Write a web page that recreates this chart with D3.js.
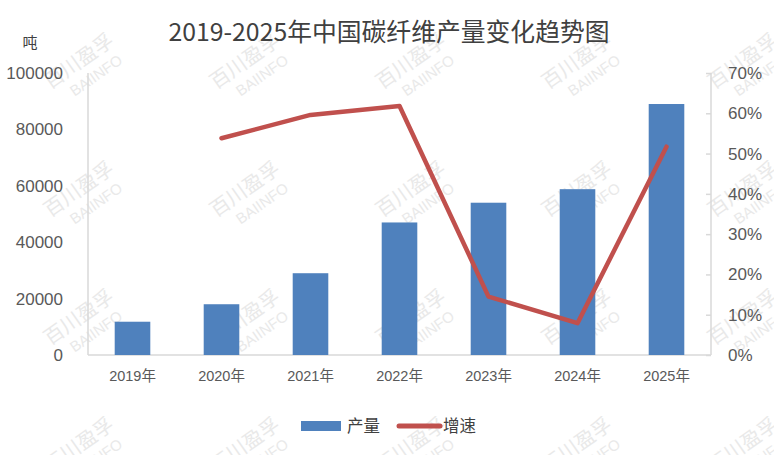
<!DOCTYPE html>
<html><head><meta charset="utf-8">
<script src="https://cdn.jsdelivr.net/npm/d3@7/dist/d3.min.js"></script>
<style>body{margin:0;background:#fff}svg{display:block}</style>
</head><body>
<svg id="c" width="774" height="455"></svg>
<script>
const categories = ["2019年","2020年","2021年","2022年","2023年","2024年","2025年"];
const output = [11800, 18000, 29000, 47000, 54000, 58800, 89000];
const growth = [null, 0.538, 0.596, 0.618, 0.145, 0.079, 0.517];
const leftTicks = [0, 20000, 40000, 60000, 80000, 100000];
const rightTicks = [0, 0.1, 0.2, 0.3, 0.4, 0.5, 0.6, 0.7];
const title = "2019-2025年中国碳纤维产量变化趋势图";
const unitLabel = "吨";
const legendNames = ["产量", "增速"];
const watermark = ["百川盈孚", "BAIINFO"];

const svg = d3.select("#c");
const M = {l: 88, r: 711, t: 73, b: 355};
const latin = "'Liberation Sans', Arial, 'Noto Sans CJK SC', sans-serif";
const cjk = "'Noto Sans CJK SC', sans-serif";

// watermark layer
const wm = svg.append("g");
for (let r = 0; r < 4; r++) {
  for (let c = 0; c < 5; c++) {
    const cx = 85 + 166 * c, cy = 70 + 128 * r;
    const g = wm.append("g").attr("transform", `translate(${cx},${cy}) rotate(-35)`);
    g.append("text").attr("x", 0).attr("y", -4).attr("text-anchor", "middle")
      .attr("font-family", cjk).attr("font-size", 20).attr("fill", "#e9e9e9").text(watermark[0]);
    g.append("text").attr("x", 6).attr("y", 16).attr("text-anchor", "middle")
      .attr("font-family", latin).attr("font-size", 15).attr("fill", "#e9e9e9").text(watermark[1]);
  }
}

const x = d3.scaleBand().domain(categories).range([M.l, M.r]).paddingInner(0.6).paddingOuter(0.3);
const yL = d3.scaleLinear().domain([0, 100000]).range([M.b, M.t]);
const yR = d3.scaleLinear().domain([0, 0.7]).range([M.b, M.t]);

// axes lines
const axisColor = "#d9d9d9";
svg.append("line").attr("x1", M.l).attr("x2", M.l).attr("y1", M.t).attr("y2", M.b)
  .attr("stroke", axisColor).attr("stroke-width", 1.5);
svg.append("line").attr("x1", M.r).attr("x2", M.r).attr("y1", M.t).attr("y2", M.b)
  .attr("stroke", axisColor).attr("stroke-width", 1.5);
svg.append("line").attr("x1", M.l).attr("x2", M.r).attr("y1", M.b).attr("y2", M.b)
  .attr("stroke", axisColor).attr("stroke-width", 1.5);

// left axis labels
const gl = svg.append("g").attr("transform", `translate(${M.l},0)`)
  .call(d3.axisLeft(yL).tickValues(leftTicks).tickSize(0).tickPadding(25).tickFormat(d3.format("d")));
gl.select(".domain").remove();
gl.selectAll("text").attr("font-family", latin).attr("font-size", 17).attr("fill", "#595959");

// right axis
const gr = svg.append("g").attr("transform", `translate(${M.r},0)`)
  .call(d3.axisRight(yR).tickValues(rightTicks).tickSize(0).tickPadding(17).tickFormat(d3.format(".0%")));
gr.select(".domain").remove();
gr.selectAll("text").attr("font-family", latin).attr("font-size", 17).attr("fill", "#595959");
gr.selectAll(".tick").append("line").attr("x1", -5).attr("x2", 0).attr("stroke", axisColor).attr("stroke-width", 1.5);

// x axis labels
const gx = svg.append("g").attr("transform", `translate(0,${M.b})`)
  .call(d3.axisBottom(x).tickSize(0).tickPadding(16));
gx.select(".domain").remove();
gx.selectAll("text").attr("font-family", latin).attr("font-size", 14.5).attr("fill", "#595959");

// bars
svg.append("g").selectAll("rect").data(output).join("rect")
  .attr("x", (d, i) => x(categories[i]))
  .attr("width", x.bandwidth())
  .attr("y", d => yL(d))
  .attr("height", d => yL(0) - yL(d))
  .attr("fill", "#4f81bd");

// line
const pts = growth.map((v, i) => ({c: categories[i], v})).filter(d => d.v !== null);
svg.append("path").datum(pts)
  .attr("d", d3.line().x(d => x(d.c) + x.bandwidth() / 2).y(d => yR(d.v)))
  .attr("fill", "none").attr("stroke", "#c0504d").attr("stroke-width", 4.5)
  .attr("stroke-linejoin", "round").attr("stroke-linecap", "round");

// title
svg.append("text").attr("x", 389).attr("y", 41).attr("text-anchor", "middle")
  .attr("font-family", cjk).attr("font-size", 24.8).attr("fill", "#404040").text(title);
svg.append("text").attr("x", 30).attr("y", 48).attr("text-anchor", "middle")
  .attr("font-family", cjk).attr("font-size", 15).attr("fill", "#404040").text(unitLabel);

// legend
const lg = svg.append("g");
lg.append("rect").attr("x", 301).attr("y", 421).attr("width", 40).attr("height", 10).attr("fill", "#4f81bd");
lg.append("text").attr("x", 347).attr("y", 432).attr("font-family", cjk).attr("font-size", 16.5)
  .attr("fill", "#404040").text(legendNames[0]);
lg.append("line").attr("x1", 399).attr("x2", 440).attr("y1", 426).attr("y2", 426)
  .attr("stroke", "#c0504d").attr("stroke-width", 5).attr("stroke-linecap", "round");
lg.append("text").attr("x", 443).attr("y", 432).attr("font-family", cjk).attr("font-size", 16.5)
  .attr("fill", "#404040").text(legendNames[1]);
</script>
</body></html>
